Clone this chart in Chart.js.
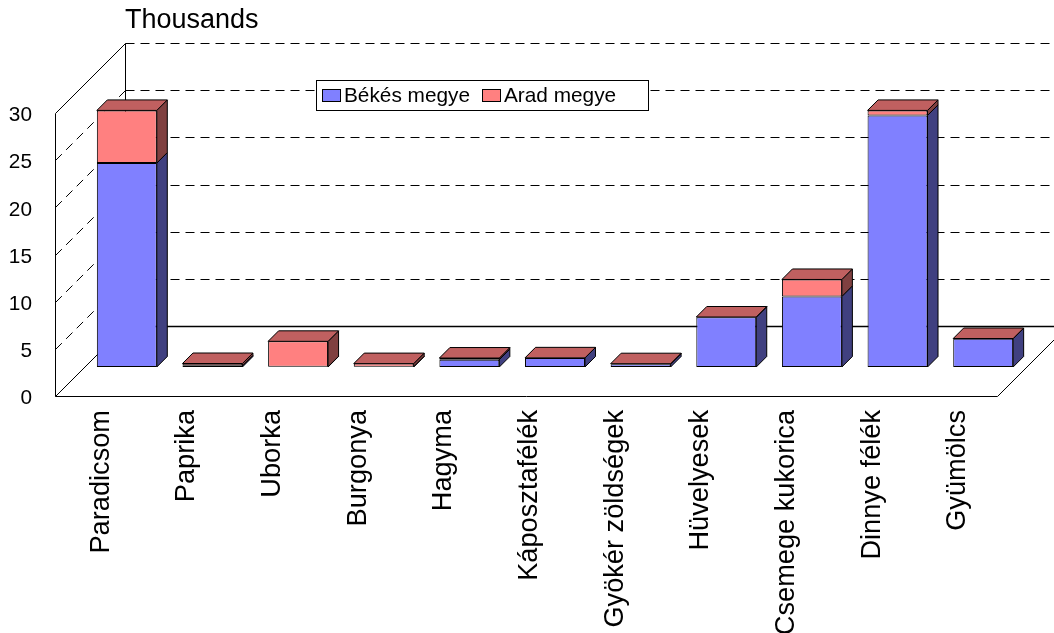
<!DOCTYPE html>
<html>
<head>
<meta charset="utf-8">
<title>Zöldségek</title>
<style>
  html, body { margin: 0; padding: 0; background: #fff; overflow: hidden; }
  canvas { display: block; }
</style>
<script src="https://cdn.jsdelivr.net/npm/chart.js@4/dist/chart.umd.min.js"></script>
</head>
<body>
<canvas id="chart" width="1054" height="633"></canvas>
<script>
const categories = ['Paradicsom', 'Paprika', 'Uborka', 'Burgonya', 'Hagyma', 'Káposztafélék',
    'Gyökér zöldségek', 'Hüvelyesek', 'Csemege kukorica', 'Dinnye félék', 'Gyümölcs'];
const bekesValues = [21.62, 0.12, 0.02, 0.03, 0.78, 0.95, 0.3, 5.28, 7.48, 26.67, 3.0];
const aradValues = [5.58, 0.25, 2.7, 0.33, 0.17, 0.02, 0.05, 0.02, 1.8, 0.53, 0.02];
const seriesNames = ['Békés megye', 'Arad megye'];
const yTicks = [0, 5, 10, 15, 20, 25, 30];

const FONT = '"Liberation Sans", Arial, sans-serif';
const WALL_DEPTH = 70;   // back wall offset
const BAR_SHIFT = 29;    // bars stand in the middle of the floor
const BAR_DEPTH = 10.5;

const front = ['#8080FF', '#FF8080'];
const side = ['#404080', '#804040'];
const topFace = '#C06060';

function line(ctx, x1, y1, x2, y2) {
    ctx.beginPath();
    ctx.moveTo(x1, y1);
    ctx.lineTo(x2, y2);
    ctx.stroke();
}

function face(ctx, pts, fill) {
    ctx.beginPath();
    pts.forEach((p, i) => i ? ctx.lineTo(p[0], p[1]) : ctx.moveTo(p[0], p[1]));
    ctx.closePath();
    ctx.fillStyle = fill;
    ctx.fill();
    ctx.stroke();
}

// walls, floor and dashed grid behind the bars
function drawWalls(chart) {
    const ctx = chart.ctx;
    const y = chart.scales.y;
    const area = chart.chartArea;
    const L = Math.round(area.left) + 0.5;
    const R = Math.round(area.right) + 0.5;
    const W = chart.width;
    ctx.save();
    ctx.strokeStyle = '#000';
    ctx.lineWidth = 1;
    yTicks.forEach(t => {
        if (t === 0) return;
        const py = Math.round(y.getPixelForValue(t)) + 0.5;
        if (t === yTicks[yTicks.length - 1]) {
            line(ctx, L, py, L + WALL_DEPTH, py - WALL_DEPTH);
        } else {
            ctx.setLineDash([9, 6]);
            line(ctx, L, py, L + WALL_DEPTH, py - WALL_DEPTH);
            ctx.setLineDash([]);
        }
        ctx.setLineDash([9, 6]);
        line(ctx, L + WALL_DEPTH, py - WALL_DEPTH, W, py - WALL_DEPTH);
        ctx.setLineDash([]);
    });
    const y0 = Math.round(y.getPixelForValue(0)) + 0.5;
    const yTop = Math.round(y.getPixelForValue(30)) + 0.5;
    line(ctx, L, yTop, L, y0);
    line(ctx, L + WALL_DEPTH, yTop - WALL_DEPTH, L + WALL_DEPTH, y0 - WALL_DEPTH);
    line(ctx, L, y0, R, y0);
    line(ctx, L, y0, L + WALL_DEPTH, y0 - WALL_DEPTH);
    line(ctx, R, y0, R + WALL_DEPTH, y0 - WALL_DEPTH);
    ctx.lineWidth = 1.5;
    line(ctx, L + WALL_DEPTH, y0 - WALL_DEPTH, W, y0 - WALL_DEPTH);
    ctx.restore();
}

// side and top faces of each stacked bar
function drawFaces(chart) {
    const ctx = chart.ctx;
    const last = chart.data.datasets.length - 1;
    ctx.strokeStyle = '#000';
    ctx.lineWidth = 1;
    chart.data.datasets.forEach((ds, d) => {
        chart.getDatasetMeta(d).data.forEach(bar => {
            const l = bar.x - bar.width / 2;
            const r = bar.x + bar.width / 2;
            face(ctx, [[r, bar.y], [r + BAR_DEPTH, bar.y - BAR_DEPTH],
                [r + BAR_DEPTH, bar.base - BAR_DEPTH], [r, bar.base]], side[d]);
            if (d === last) {
                face(ctx, [[l, bar.y], [l + BAR_DEPTH, bar.y - BAR_DEPTH],
                    [r + BAR_DEPTH, bar.y - BAR_DEPTH], [r, bar.y]], topFace);
            }
        });
    });
}

function drawLegend(chart) {
    const ctx = chart.ctx;
    ctx.save();
    ctx.fillStyle = '#fff';
    ctx.strokeStyle = '#000';
    ctx.lineWidth = 1;
    ctx.fillRect(316.5, 80.5, 332, 30);
    ctx.strokeRect(316.5, 80.5, 332, 30);
    ctx.font = '20.8px ' + FONT;
    ctx.textBaseline = 'middle';
    [[323, 344], [483, 504]].forEach((pos, i) => {
        ctx.fillStyle = front[i];
        ctx.fillRect(pos[0] - 0.5, 89.5, 18, 12);
        ctx.strokeRect(pos[0] - 0.5, 89.5, 18, 12);
        ctx.fillStyle = '#000';
        ctx.fillText(seriesNames[i], pos[1], 96);
    });
    ctx.restore();
}

const fake3d = {
    id: 'fake3d',
    beforeDatasetsDraw(chart) {
        drawWalls(chart);
        chart.ctx.save();
        chart.ctx.translate(BAR_SHIFT, -BAR_SHIFT);
    },
    afterDatasetsDraw(chart) {
        drawFaces(chart);
        chart.ctx.restore();
    },
    afterDraw(chart) {
        const ctx = chart.ctx;
        drawLegend(chart);
        ctx.save();
        ctx.fillStyle = '#000';
        ctx.font = '27px ' + FONT;
        ctx.textBaseline = 'alphabetic';
        ctx.fillText('Thousands', 125, 28);
        ctx.restore();
    }
};

const barStyle = { borderColor: '#000', borderWidth: 1, borderSkipped: false, clip: false };

new Chart(document.getElementById('chart'), {
    type: 'bar',
    data: {
        labels: categories,
        datasets: [
            { label: seriesNames[0], data: bekesValues, backgroundColor: front[0], ...barStyle },
            { label: seriesNames[1], data: aradValues, backgroundColor: front[1], ...barStyle }
        ]
    },
    plugins: [fake3d],
    options: {
        responsive: false,
        animation: false,
        barPercentage: 0.7,
        categoryPercentage: 1,
        layout: { padding: { top: 113, right: 57, left: 0, bottom: 0 } },
        plugins: { legend: { display: false }, tooltip: { enabled: false }, title: { display: false } },
        scales: {
            x: {
                stacked: true,
                grid: { display: false },
                border: { display: false },
                afterFit: s => { s.height = 237; },
                ticks: {
                    autoSkip: false, minRotation: 90, maxRotation: 90, padding: 6, labelOffset: 3.5,
                    color: '#000', font: { family: FONT, size: 27.2 }
                }
            },
            y: {
                stacked: true,
                min: 0,
                max: 30,
                grid: { display: false },
                border: { display: false },
                afterFit: s => { s.width = 55; },
                ticks: {
                    stepSize: 5, padding: 15, labelOffset: 2.5, color: '#000',
                    font: { family: FONT, size: 20.8 }
                }
            }
        }
    }
});
</script>
</body>
</html>
